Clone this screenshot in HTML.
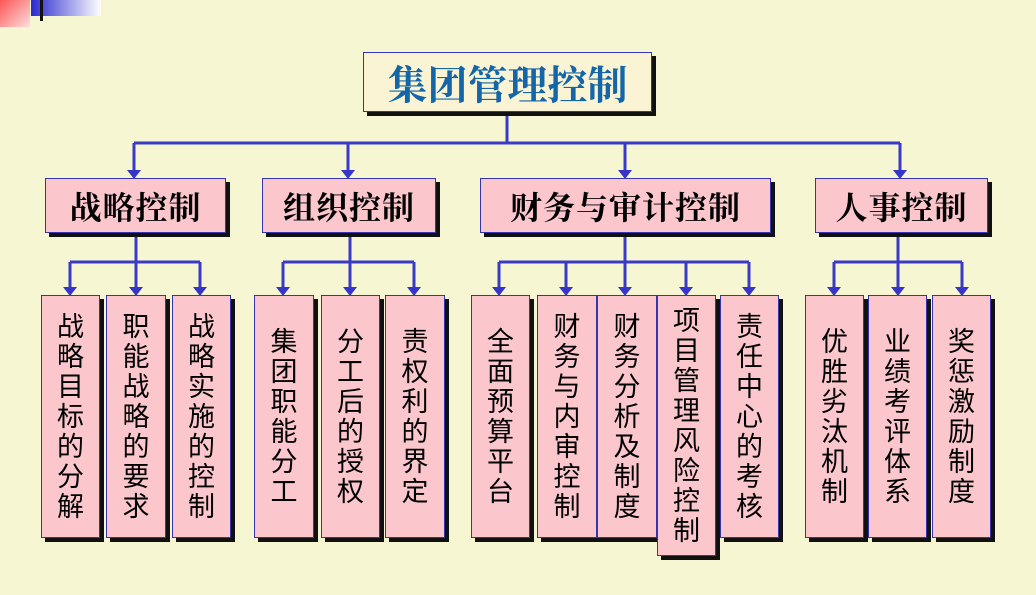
<!DOCTYPE html>
<html><head><meta charset="utf-8"><style>
body{margin:0;width:1036px;height:595px;background:#F6F6D2;position:relative;overflow:hidden;font-family:"Liberation Sans","Noto Sans CJK SC",sans-serif;}
.b{position:absolute;background:#FBC7CD;border:1px solid #3535B0;box-shadow:4px 4px 0 #111;box-sizing:border-box;display:flex;align-items:center;justify-content:center;color:#000;}
.h{font-size:32px;letter-spacing:1px;font-family:"Liberation Serif","Noto Serif CJK SC",serif;font-weight:bold;}
.v{font-size:27px;line-height:30px;text-align:center;}
</style></head><body>
<div style="position:absolute;left:0;top:0;width:30px;height:27px;background:linear-gradient(135deg,#f55,#fdd)"></div>
<div style="position:absolute;left:31px;top:0;width:70px;height:16px;background:linear-gradient(90deg,#2a2ad0,#fff)"></div>
<div style="position:absolute;left:40px;top:0;width:3px;height:21px;background:#111"></div>
<svg width="1036" height="595" style="position:absolute;left:0;top:0" fill="#3535C8">
<g stroke="#3A3AC8" stroke-width="3" fill="none">
<path d="M507 112V143M134 143H900M134 143V172M348 143V172M625 143V172M900 143V172"/>
<path d="M136 233V262M70 262H200M70 262V289M136 262V289M200 262V289"/>
<path d="M350 233V262M283 262H414M283 262V289M350 262V289M414 262V289"/>
<path d="M625 233V262M499 262H749M499 262V289M566 262V289M625 262V289M686 262V289M749 262V289"/>
<path d="M898 233V262M834 262H962M834 262V289M898 262V289M962 262V289"/>
</g>
<g>
<path d="M127 170h14l-7 9z"/><path d="M341 170h14l-7 9z"/><path d="M618 170h14l-7 9z"/><path d="M893 170h14l-7 9z"/>
<path d="M63 287h14l-7 9z"/><path d="M129 287h14l-7 9z"/><path d="M193 287h14l-7 9z"/>
<path d="M276 287h14l-7 9z"/><path d="M343 287h14l-7 9z"/><path d="M407 287h14l-7 9z"/>
<path d="M492 287h14l-7 9z"/><path d="M559 287h14l-7 9z"/><path d="M618 287h14l-7 9z"/><path d="M679 287h14l-7 9z"/><path d="M742 287h14l-7 9z"/>
<path d="M827 287h14l-7 9z"/><path d="M891 287h14l-7 9z"/><path d="M955 287h14l-7 9z"/>
</g>
</svg>
<div class="b" style="left:363px;top:52px;width:289px;height:60px;background:#FAF4D4;font-size:40px;color:#1466A8;font-family:'Liberation Serif','Noto Serif CJK SC',serif;font-weight:bold">集团管理控制</div>
<div class="b h" style="left:45px;top:178px;width:181px;height:55px">战略控制</div>
<div class="b h" style="left:262px;top:178px;width:174px;height:55px">组织控制</div>
<div class="b h" style="left:480px;top:178px;width:291px;height:55px">财务与审计控制</div>
<div class="b h" style="left:815px;top:178px;width:173px;height:55px">人事控制</div>

<div class="b v" style="left:41px;top:295px;width:59px;height:243px">战<br>略<br>目<br>标<br>的<br>分<br>解</div>
<div class="b v" style="left:106px;top:295px;width:60px;height:243px">职<br>能<br>战<br>略<br>的<br>要<br>求</div>
<div class="b v" style="left:172px;top:295px;width:59px;height:243px">战<br>略<br>实<br>施<br>的<br>控<br>制</div>
<div class="b v" style="left:254px;top:295px;width:60px;height:243px">集<br>团<br>职<br>能<br>分<br>工</div>
<div class="b v" style="left:321px;top:295px;width:59px;height:243px">分<br>工<br>后<br>的<br>授<br>权</div>
<div class="b v" style="left:385px;top:295px;width:60px;height:243px">责<br>权<br>利<br>的<br>界<br>定</div>
<div class="b v" style="left:471px;top:295px;width:59px;height:243px">全<br>面<br>预<br>算<br>平<br>台</div>
<div class="b v" style="left:537px;top:295px;width:60px;height:243px">财<br>务<br>与<br>内<br>审<br>控<br>制</div>
<div class="b v" style="left:597px;top:295px;width:60px;height:243px">财<br>务<br>分<br>析<br>及<br>制<br>度</div>
<div class="b v" style="left:657px;top:295px;width:59px;height:261px">项<br>目<br>管<br>理<br>风<br>险<br>控<br>制</div>
<div class="b v" style="left:720px;top:295px;width:59px;height:243px">责<br>任<br>中<br>心<br>的<br>考<br>核</div>
<div class="b v" style="left:805px;top:295px;width:59px;height:243px">优<br>胜<br>劣<br>汰<br>机<br>制</div>
<div class="b v" style="left:868px;top:295px;width:59px;height:243px">业<br>绩<br>考<br>评<br>体<br>系</div>
<div class="b v" style="left:932px;top:295px;width:59px;height:243px">奖<br>惩<br>激<br>励<br>制<br>度</div>
</body></html>
